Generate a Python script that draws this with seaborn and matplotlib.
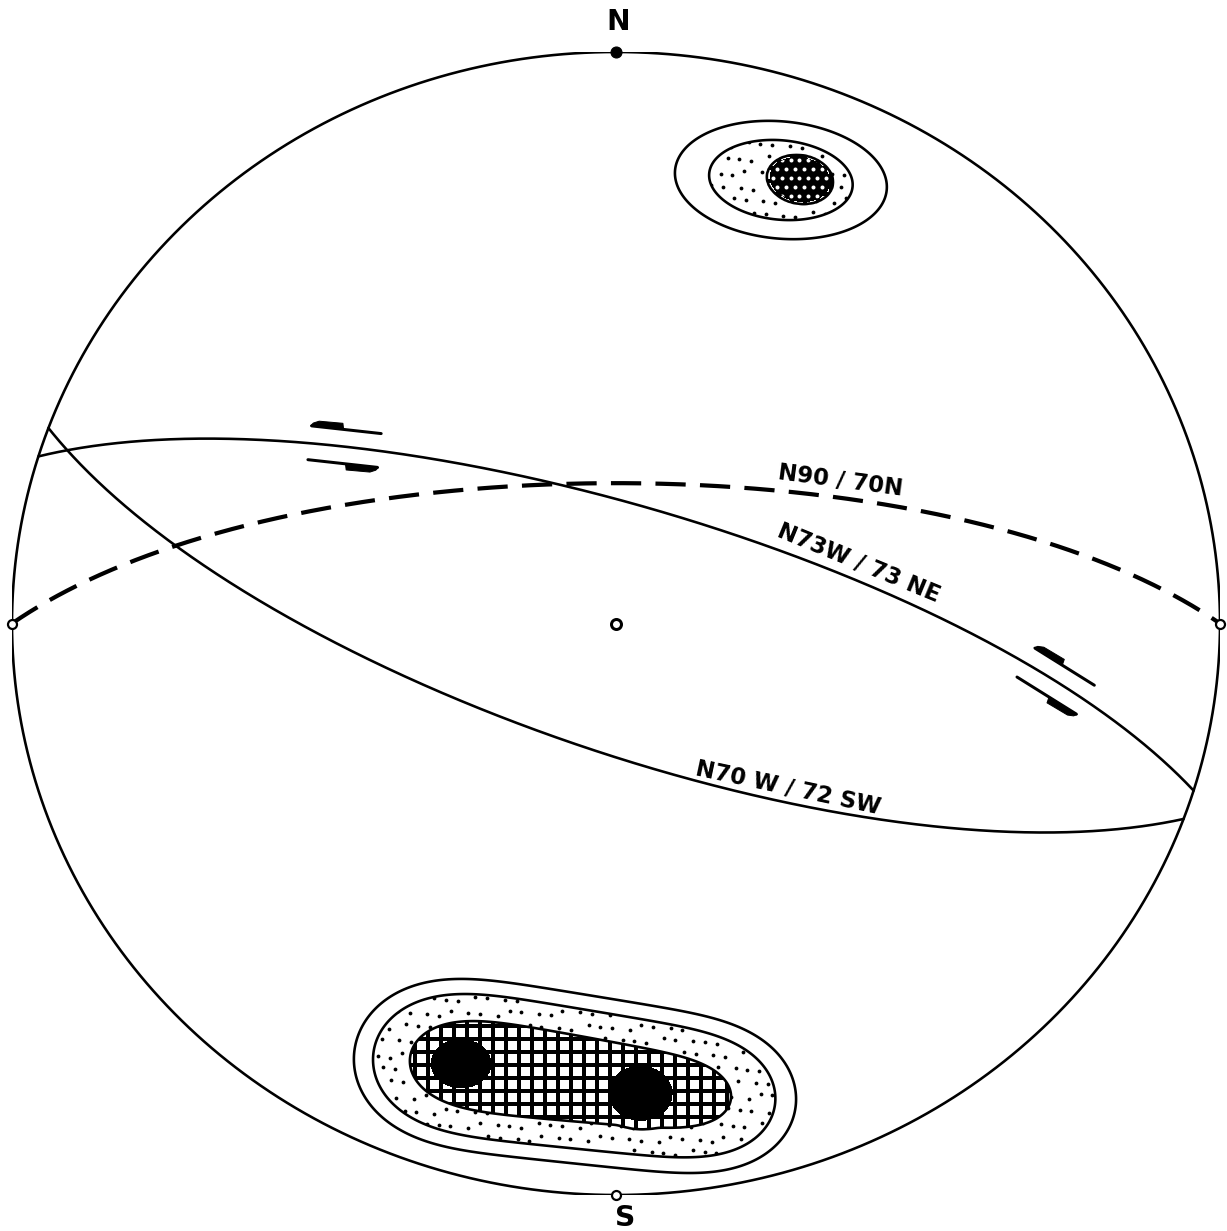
import numpy as np
import pandas as pd
import matplotlib
matplotlib.use("Agg")
import matplotlib.pyplot as plt
import seaborn as sns
from matplotlib.collections import LineCollection
from matplotlib.patches import Polygon

# ---------------------------------------------------------------
# Data
# ---------------------------------------------------------------
# Planes: right-hand-rule strike azimuth (deg) and dip (deg)
plane_names = ["N90 / 70N", "N73W / 73 NE", "N70 W / 72 SW"]
plane_strike = [270, 287, 110]
plane_dip = [70, 73, 72]
plane_dashed = [True, False, False]
# label position along each trace (net x) and offset above the trace (px)
label_at_x = [0.368, 0.392, 0.280]
label_offset = [17, 17, 14]

# Pole concentrations (net coordinates, unit radius, x east / y north)
peak_x = [0.273, 0.305, -0.258, 0.041]
peak_y = [0.776, 0.777, -0.770, -0.823]
peak_sx = [0.110, 0.050, 0.048, 0.051]
peak_sy = [0.064, 0.0385, 0.042, 0.048]
peak_angle = [-6, -12, 0, 0]
peak_height = [3.6, 20.0, 15.0, 15.0]
peak_power = [1, 8, 4, 4]

# Elongated concentration of poles along a segment (southern maximum)
girdle_start = (-0.338, -0.758)
girdle_end = (0.2185, -0.837)
girdle_sigma = (0.072, 0.070)
girdle_height = (10.3, 7.0)

# Density contour levels (lowest to highest)
contour_levels = [1, 2, 5, 16]

# Slip-sense symbols placed along the N73W plane
arrow_plane = 1
arrow_at_x = [-0.449, 0.728]

DPI = 78
W, H = 1227, 1231


def pt(px):
    """pixels -> points at the output resolution"""
    return px * 72.0 / DPI


def great_circle(strike, dip, n=721):
    s = np.radians(strike)
    d = np.radians(dip)
    sv = np.array([np.sin(s), np.cos(s), 0.0])
    dd = s + np.pi / 2
    dv = np.array([np.sin(dd) * np.cos(d), np.cos(dd) * np.cos(d), np.sin(d)])
    r = np.radians(np.linspace(0, 180, n))
    v = np.outer(np.cos(r), sv) + np.outer(np.sin(r), dv)
    plunge = np.arcsin(np.clip(v[:, 2], -1, 1))
    trend = np.arctan2(v[:, 0], v[:, 1])
    rho = np.sqrt(2) * np.sin((np.pi / 2 - plunge) / 2)  # Schmidt (equal-area)
    return rho * np.sin(trend), rho * np.cos(trend)


sns.set_style("white")
plt.rcParams["font.family"] = ["DejaVu Sans"]
plt.rcParams["text.color"] = "black"

fig = plt.figure(figsize=(W / DPI, H / DPI), dpi=DPI)
ax = fig.add_axes([12 / W, 36 / H, 1208 / W, 1143 / H])
ax.set_xlim(-1, 1)
ax.set_ylim(-1, 1)
ax.set_autoscale_on(False)
ax.axis("off")

T = ax.transData
Tinv = T.inverted()
ux = T.transform((1, 0))[0] - T.transform((0, 0))[0]
uy = T.transform((0, 1))[1] - T.transform((0, 0))[1]

# ---------------------------------------------------------------
# Pole density field
# ---------------------------------------------------------------
g = np.linspace(-1, 1, 800)
GX, GY = np.meshgrid(g, g)
Z = np.zeros_like(GX)
for cx, cy, sx, sy, ang, h, p in zip(peak_x, peak_y, peak_sx, peak_sy,
                                       peak_angle, peak_height, peak_power):
    a = np.radians(ang)
    dx, dy = GX - cx, GY - cy
    u = dx * np.cos(a) + dy * np.sin(a)
    v = -dx * np.sin(a) + dy * np.cos(a)
    q = (u / sx) ** 2 + (v / sy) ** 2
    Z += h * np.exp(-0.5 * q ** p)

nseg = 90
tt = np.linspace(0, 1, nseg)
segx = girdle_start[0] + tt * (girdle_end[0] - girdle_start[0])
segy = girdle_start[1] + tt * (girdle_end[1] - girdle_start[1])
segs_sig = girdle_sigma[0] + tt * (girdle_sigma[1] - girdle_sigma[0])
segs_h = girdle_height[0] + tt * (girdle_height[1] - girdle_height[0])
seg_len = np.hypot(girdle_end[0] - girdle_start[0], girdle_end[1] - girdle_start[1])
ds = seg_len / (nseg - 1)
for sx_, sy_, sg, hh in zip(segx, segy, segs_sig, segs_h):
    w = hh * ds / (sg * np.sqrt(2 * np.pi))
    Z += w * np.exp(-0.5 * ((GX - sx_) ** 2 + (GY - sy_) ** 2) / sg ** 2)

bands = ax.contourf(GX, GY, Z, levels=contour_levels + [Z.max() + 1],
                    colors=["none", "none", "none", "black"], zorder=3)
band_paths = bands.get_paths()


def lattice(step_px, stagger=True, jitter=0.0):
    bb = ax.bbox
    ys = np.arange(bb.y0, bb.y1, step_px)
    pts = []
    for j, yv in enumerate(ys):
        xs = np.arange(bb.x0, bb.x1, step_px)
        if stagger and j % 2:
            xs = xs + step_px / 2
        for i, xv in enumerate(xs):
            jx = (((i * 0.618034 + j * 0.381966) % 1.0) - 0.5) * jitter
            jy = (((i * 0.754878 + j * 0.569840) % 1.0) - 0.5) * jitter
            pts.append((xv + jx, yv + jy))
    return Tinv.transform(np.array(pts))


# stipple between 2nd and 3rd contour
sp = lattice(14, jitter=6)
stip = ax.scatter(sp[:, 0], sp[:, 1], s=pt(3.8) ** 2, color="black",
                  linewidths=0, zorder=2)
stip.set_clip_path(band_paths[1], T)

# square grid between 3rd and 4th contour
step = 13
segs = []
for xv in np.arange(-1, 1, step / ux):
    segs.append([(xv, -1), (xv, 1)])
for yv in np.arange(-1, 1, step / uy):
    segs.append([(-1, yv), (1, yv)])
grid = LineCollection(segs, colors="black", linewidths=pt(4), zorder=2)
ax.add_collection(grid)
grid.set_clip_path(band_paths[2], T)

# white dots inside the northern maximum
wp = lattice(9, jitter=0)
wp = wp[wp[:, 1] > 0]
wd = ax.scatter(wp[:, 0], wp[:, 1], s=pt(4) ** 2, color="white",
                linewidths=0, zorder=4)
wd.set_clip_path(band_paths[3], T)

ax.contour(GX, GY, Z, levels=contour_levels[:3], colors="black",
           linewidths=pt(2.6), zorder=5)

# ---------------------------------------------------------------
# Primitive circle and great circles
# ---------------------------------------------------------------
th = np.linspace(0, 2 * np.pi, 721)
prim = pd.DataFrame({"x": np.cos(th), "y": np.sin(th)})
sns.lineplot(data=prim, x="x", y="y", sort=False, estimator=None,
             color="black", lw=pt(2.6), ax=ax, zorder=6)

curves = []
for strike, dip, dashed in zip(plane_strike, plane_dip, plane_dashed):
    cx, cy = great_circle(strike, dip)
    curves.append((cx, cy))
    df = pd.DataFrame({"x": cx, "y": cy})
    sns.lineplot(data=df, x="x", y="y", sort=False, estimator=None,
                 color="black", lw=pt(4.2 if dashed else 2.6), ax=ax, zorder=6)
    if dashed:
        ln = ax.lines[-1]
        ln.set_dashes((7.2, 3.4))
        ln.set_dash_capstyle("butt")


def trace_frame(cx, cy, at_x):
    """point, unit tangent and upward normal (display px) on a trace"""
    cpx = T.transform(np.column_stack([cx, cy]))
    i = int(np.argmin(np.abs(cx - at_x)))
    i = min(max(i, 1), len(cx) - 2)
    tvec = cpx[i + 1] - cpx[i - 1]
    tvec = tvec / np.hypot(*tvec)
    if tvec[0] < 0:
        tvec = -tvec
    nvec = np.array([-tvec[1], tvec[0]])
    return cpx[i], tvec, nvec


for name, (cx, cy), at_x, off in zip(plane_names, curves, label_at_x, label_offset):
    p0, tvec, nvec = trace_frame(cx, cy, at_x)
    pos = Tinv.transform(p0 + off * nvec)
    rot = np.degrees(np.arctan2(tvec[1], tvec[0]))
    ax.text(pos[0], pos[1], name, rotation=rot, rotation_mode="anchor",
            ha="center", va="center", fontsize=21, fontweight="bold",
            color="black", zorder=9)

# ---------------------------------------------------------------
# Slip-sense half arrows on both sides of the plane
# ---------------------------------------------------------------
cx, cy = curves[arrow_plane]
L = 70.0
off = 17.0
for target in arrow_at_x:
    p0, tvec, nvec = trace_frame(cx, cy, target)
    for side in (1, -1):
        c = p0 + side * off * nvec
        d = -tvec if side == 1 else tvec
        outv = nvec * side
        tip = c + d * L / 2
        tail = c - d * L / 2
        shaft = Tinv.transform(np.array([tail, tip]))
        ax.plot(shaft[:, 0], shaft[:, 1], color="black", lw=pt(3),
                solid_capstyle="round", zorder=7)
        head = np.array([tip + 1.0 * d, tip - 0.46 * L * d,
                         tip - 0.44 * L * d + 6.0 * outv,
                         tip - 0.10 * L * d + 5.5 * outv,
                         tip - 0.02 * L * d + 3.0 * outv])
        ax.add_patch(Polygon(Tinv.transform(head), closed=True,
                             facecolor="black", edgecolor="black",
                             lw=pt(1), joinstyle="round", zorder=7))

# ---------------------------------------------------------------
# Reference marks and cardinal labels
# ---------------------------------------------------------------
ax.plot([0], [1], "o", ms=pt(11), color="black", zorder=8, clip_on=False)
for px_, py_ in [(0, -1), (-1, 0), (1, 0)]:
    ax.plot([px_], [py_], "o", ms=pt(9), mfc="white", mec="black",
            mew=pt(2.2), zorder=8, clip_on=False)
ax.plot([0], [0], "o", ms=pt(10), mfc="white", mec="black", mew=pt(3),
        zorder=8, clip_on=False)

ax.text(0.003, 1.052, "N", ha="center", va="center", fontsize=26,
        fontweight="bold", color="black", clip_on=False)
ax.text(0.015, -1.041, "S", ha="center", va="center", fontsize=26,
        fontweight="bold", color="black", clip_on=False)

ax.set_xlim(-1, 1)
ax.set_ylim(-1, 1)
fig.savefig("out.png", dpi=DPI, facecolor="white")
